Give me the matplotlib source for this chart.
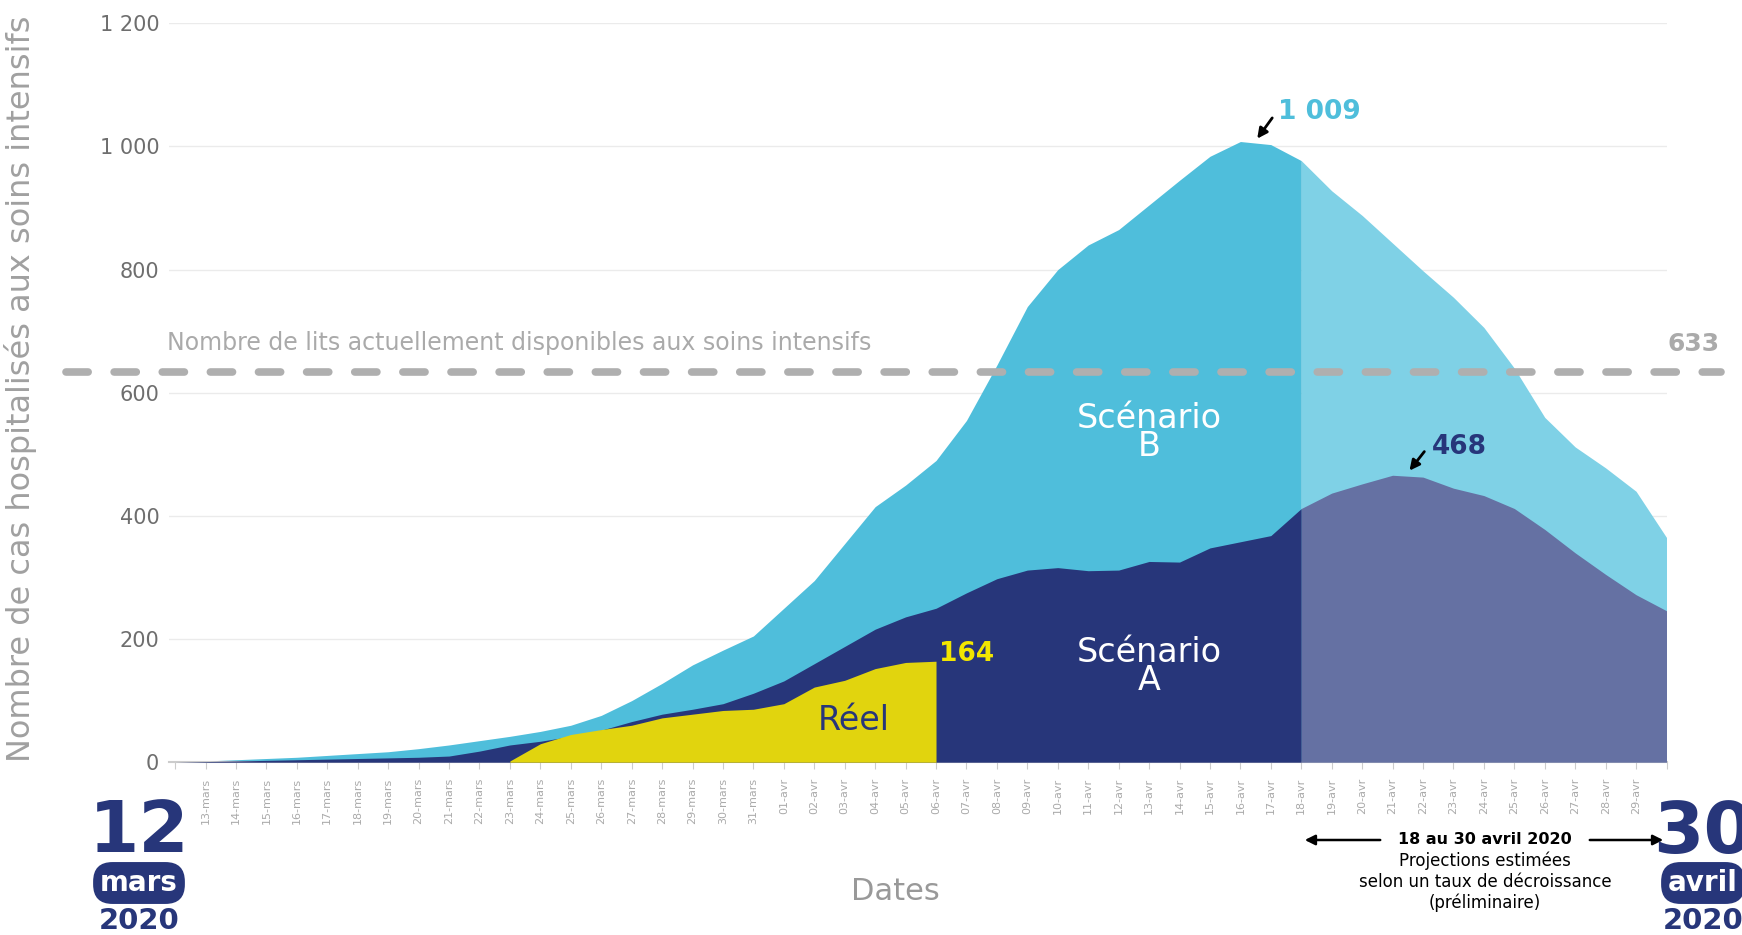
import numpy as np
import matplotlib
matplotlib.use("Agg")
import matplotlib.pyplot as plt

plt.rcParams['font.family'] = ['DejaVu Sans']

# jours du 12 mars (0) au 30 avril (49)
jours = list(range(50))
etiquettes = ([""] + ["%02d-mars" % d for d in range(13, 32)]
              + ["%02d-avr" % d for d in range(1, 30)] + [""])

# Scénario B (total)
scen_b = [0, 2, 4, 6, 8, 11, 14, 17, 22, 28,
          35, 42, 50, 60, 76, 100, 128, 158, 182, 205,
          250, 295, 355, 415, 450, 490, 555, 645, 740, 800,
          840, 865, 905, 945, 984, 1008, 1003, 977, 928, 888,
          843, 798, 755, 706, 640, 560, 512, 478, 440, 365]
# Scénario A
scen_a = [0, 1, 2, 3, 4, 5, 6, 7, 8, 10,
          18, 28, 34, 42, 52, 66, 78, 86, 95, 112,
          132, 160, 188, 216, 236, 250, 275, 298, 312, 316,
          311, 312, 326, 325, 348, 358, 368, 412, 437, 452,
          466, 463, 445, 433, 412, 378, 340, 305, 272, 246]
# Réel (23 mars au 6 avril)
reel_jours = list(range(11, 26))
reel = [2, 30, 45, 53, 60, 72, 78, 84, 86, 95, 122, 133, 152, 162, 164]

lits = 633
debut_proj = 37  # 18 avril

CYAN = '#4FBEDB'
CYAN_L = '#7FD1E6'
NAVY = '#27367A'
NAVY_L = '#6571A3'
JAUNE = '#E1D40E'

W, H = 1742, 935
fig = plt.figure(figsize=(W / 100, H / 100), dpi=100)
ax = fig.add_axes([169 / W, 1 - 762.2 / H, (1666.5 - 169) / W, (762.2 - 23.3) / H])

x = np.array(jours)
b = np.array(scen_b)
a = np.array(scen_a)
p1 = x <= debut_proj
p2 = x >= debut_proj

ax.fill_between(x[p1], 0, b[p1], color=CYAN, lw=0, zorder=2)
ax.fill_between(x[p2], 0, b[p2], color=CYAN_L, lw=0, zorder=2)
ax.fill_between(x[p1], 0, a[p1], color=NAVY, lw=0, zorder=3)
ax.fill_between(x[p2], 0, a[p2], color=NAVY_L, lw=0, zorder=3)
ax.fill_between(reel_jours, 0, reel, color=JAUNE, lw=0, zorder=4)

ax.set_xlim(-0.2, 49)
ax.set_ylim(0, 1200)
ax.set_yticks(range(0, 1201, 200))
ax.set_yticklabels(["0", "200", "400", "600", "800", "1 000", "1 200"],
                   fontsize=15, color='#6E6E6E')
ax.set_xticks(jours)
ax.set_xticklabels(etiquettes, rotation=90, fontsize=8, color='#AAAAAA')
ax.tick_params(axis='y', length=0, pad=7)
ax.tick_params(axis='x', length=5, color='#CCCCCC', pad=6)
ax.grid(axis='y', color='#EBEBEB', lw=1, zorder=0)
for s in ['top', 'right', 'left']:
    ax.spines[s].set_visible(False)
ax.spines['bottom'].set_color('#CCCCCC')
ax.spines['bottom'].set_linewidth(1.5)
ax.set_axisbelow(True)

ax.set_ylabel("Nombre de cas hospitalisés aux soins intensifs", fontsize=23,
              color='#A0A0A0')
ax.yaxis.set_label_coords(-0.088, 0.505)

# ligne des lits disponibles
ax.plot([-3.6, 50.8], [lits, lits], color='#AFAFAF', lw=5.5,
        dash_capstyle='round', linestyle=(0, (2.9, 3.4)), clip_on=False, zorder=6)
ax.text(-0.26, 681, "Nombre de lits actuellement disponibles aux soins intensifs",
        fontsize=17, color='#AAAAAA', va='center', ha='left', zorder=7)
ax.text(49.9, 679, str(lits), fontsize=18, color='#AAAAAA', fontweight='bold',
        va='center', ha='center', zorder=7)

# annotations
ax.annotate("", xy=(35.5, 1009), xytext=(36.1, 1050),
            arrowprops=dict(arrowstyle='-|>', color='black', lw=2, mutation_scale=15))
ax.text(37.6, 1056, "1 009", fontsize=19, color=CYAN, fontweight='bold',
        ha='center', va='center')
ax.annotate("", xy=(40.5, 470), xytext=(41.1, 508),
            arrowprops=dict(arrowstyle='-|>', color='black', lw=2, mutation_scale=15))
ax.text(42.2, 512, "468", fontsize=19, color=NAVY, fontweight='bold',
        ha='center', va='center', zorder=7)
ax.text(26.0, 176, "164", fontsize=19, color='#F2E600', fontweight='bold',
        ha='center', va='center', zorder=7)
ax.text(22.3, 67, "Réel", fontsize=24, color=NAVY, ha='center', va='center', zorder=7)
ax.text(32.0, 535, "Scénario\nB", fontsize=24, color='white', ha='center', va='center',
        linespacing=0.8, zorder=7)
ax.text(32.0, 155, "Scénario\nA", fontsize=24, color='white', ha='center', va='center',
        linespacing=0.8, zorder=7)

# bas de figure
fig.text(895 / W, 1 - 891 / H, "Dates", fontsize=22, color='#999999',
         ha='center', va='center')

badge = dict(boxstyle='round,pad=0.25,rounding_size=0.7', fc=NAVY, ec='none')
for cx, jour, mois in [(139, "12", "mars"), (1703, "30", "avril")]:
    fig.text(cx / W, 1 - 833 / H, jour, fontsize=52, color=NAVY, ha='center',
             va='center', fontweight='bold')
    fig.text(cx / W, 1 - 883 / H, mois, fontsize=20, color='white', ha='center',
             va='center', fontweight='bold', bbox=badge)
    fig.text(cx / W, 1 - 921 / H, "2020", fontsize=21, color=NAVY, ha='center',
             va='center', fontweight='bold')

fig.text(1485 / W, 1 - 840 / H, "18 au 30 avril 2020", fontsize=11.5, fontweight='bold',
         color='black', ha='center', va='center')
fig.text(1485 / W, 1 - 882 / H, "Projections estimées\nselon un taux de décroissance\n(préliminaire)",
         fontsize=12, color='black', ha='center', va='center', linespacing=1.2)
fig.patches.append(matplotlib.patches.FancyArrowPatch(
    (1383 / W, 1 - 840 / H), (1302 / W, 1 - 840 / H), transform=fig.transFigure,
    arrowstyle='-|>', mutation_scale=15, color='black', lw=1.8))
fig.patches.append(matplotlib.patches.FancyArrowPatch(
    (1587 / W, 1 - 840 / H), (1666 / W, 1 - 840 / H), transform=fig.transFigure,
    arrowstyle='-|>', mutation_scale=15, color='black', lw=1.8))

fig.savefig("out.png", dpi=100)
